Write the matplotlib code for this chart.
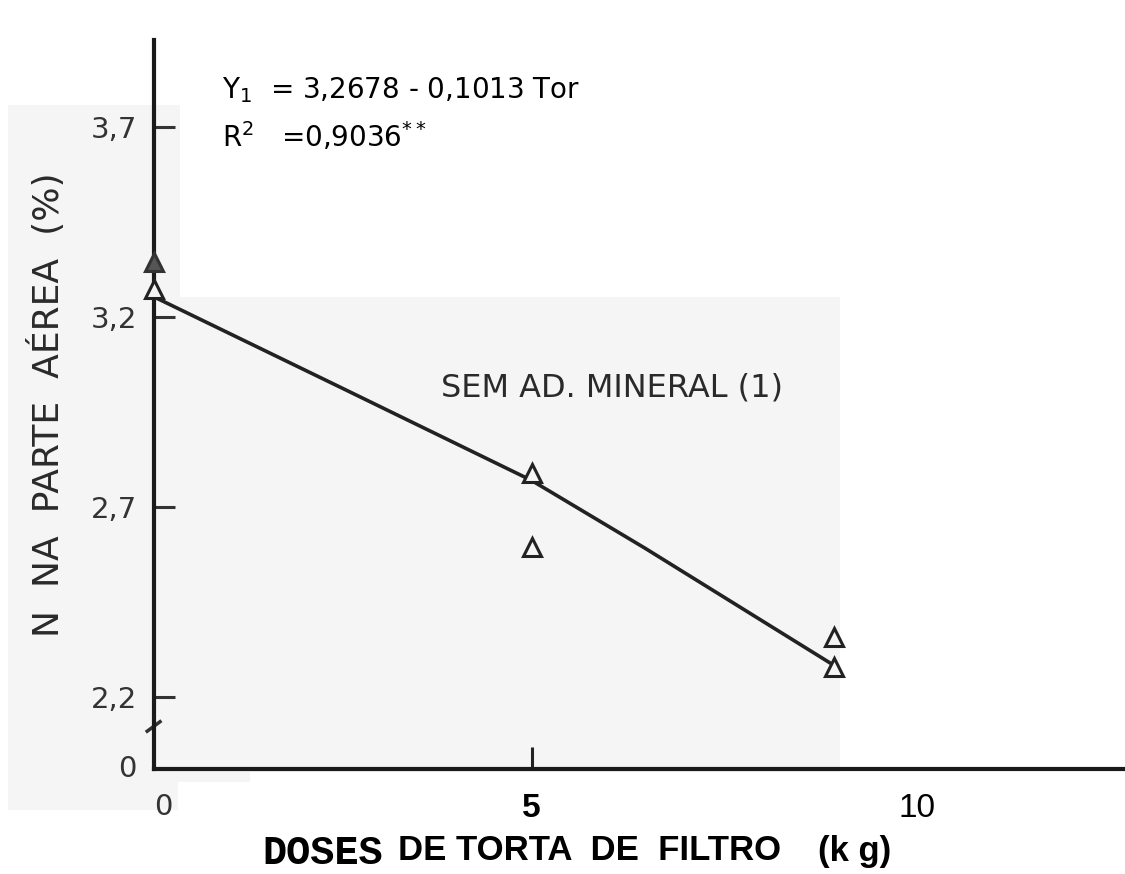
import matplotlib
matplotlib.use("Agg")
import matplotlib.pyplot as plt
from matplotlib.patches import Rectangle

# Data (dose of filter cake, N % in shoots)
dose_points = [0, 0, 5, 5, 9, 9]
n_points = [3.345, 3.274, 2.790, 2.595, 2.358, 2.279]
filled_point = [True, False, False, False, False, False]

# Fitted curve as drawn (slightly bent by hand)
fit_dose = [0, 2.5, 5, 6.5, 9]
fit_n = [3.253, 3.012, 2.770, 2.592, 2.284]

y_ticks = [2.2, 2.7, 3.2, 3.7]
y_tick_labels = ["2,2", "2,7", "3,2", "3,7"]
x_ticks = [0, 5, 10.1]
x_tick_labels = ["0", "5", "10"]

W, H = 1125, 874
fig = plt.figure(figsize=(W / 100, H / 100), dpi=100)
fig.patch.set_facecolor("white")

# Layout (pixels)
axis_x = 154
axis_y = 769
top_y = 40
px_per_dose = 75.5
px_per_n = 380.0
y_ref_px = 697  # pixel of 2.2


def px_rect(x0, y0, x1, y1, color):
    r = Rectangle((x0 / W, 1 - y1 / H), (x1 - x0) / W, (y1 - y0) / H,
                  transform=fig.transFigure, facecolor=color,
                  edgecolor="none", zorder=-5)
    fig.patches.append(r)


# scanned background pieces
scan_grey = "#f5f5f5"
px_rect(8, 105, 180, 297, scan_grey)
px_rect(8, 297, 840, 772, scan_grey)
px_rect(8, 772, 250, 782, scan_grey)
px_rect(8, 782, 178, 810, scan_grey)

ax = fig.add_axes([axis_x / W, (H - axis_y) / H,
                   (W - axis_x) / W, (axis_y - top_y) / H])
ax.set_facecolor("none")
ax.set_xlim(0, (W - axis_x) / px_per_dose)
ax.set_ylim(2.2 - (axis_y - y_ref_px) / px_per_n,
            2.2 + (y_ref_px - top_y) / px_per_n)

for s in ["top", "right"]:
    ax.spines[s].set_visible(False)
ax.spines["left"].set_linewidth(3)
ax.spines["bottom"].set_linewidth(3)
ax.spines["left"].set_color("#1a1a1a")
ax.spines["bottom"].set_color("#1a1a1a")

# fitted line and points
ax.plot(fit_dose, fit_n, color="#222222", lw=2.6, zorder=3,
        solid_capstyle="round", clip_on=False)
for xd, yd, filled in zip(dose_points, n_points, filled_point):
    ax.plot(xd, yd, marker="^", ms=13, mew=2.2, clip_on=False, zorder=4,
            mec="#333333" if filled else "#222222",
            mfc="#555555" if filled else scan_grey)

# y ticks
ax.set_yticks(y_ticks)
ax.set_yticklabels(y_tick_labels, fontsize=21, color="#333333",
                   family="DejaVu Sans")
ax.tick_params(axis="y", direction="in", length=15, width=2.2,
               color="#333333", pad=12)
ax.text(-0.35, ax.get_ylim()[0], "0", fontsize=21, color="#333333",
        ha="center", va="center")
# axis break mark
ax.plot([-0.09, 0.08], [2.11, 2.135], color="#333333", lw=2.5, clip_on=False)

# x ticks
ax.set_xticks(x_ticks)
ax.set_xticklabels(x_tick_labels)
ax.tick_params(axis="x", direction="in", length=16, width=2.2,
               color="#222222", pad=17)
xt = ax.xaxis.get_major_ticks()
xt[0].tick1line.set_visible(False)
xt[2].tick1line.set_visible(False)
labs = ax.get_xticklabels()
labs[0].set_fontsize(21)
labs[0].set_color("#333333")
labs[0].set_ha("left")
labs[1].set_fontsize(24)
labs[1].set_fontweight("bold")
labs[1].set_family("Liberation Sans")
labs[2].set_fontsize(24)
labs[2].set_family("Liberation Sans")

# equation
fig.text(222 / W, 1 - 90 / H, r"Y$_\mathregular{1}$  = 3,2678 - 0,1013 Tor",
         fontsize=20, color="black", va="center", ha="left")
fig.text(222 / W, 1 - 137 / H, r"R$^\mathregular{2}$   =0,9036$^{\mathregular{**}}$",
         fontsize=20, color="black", va="center", ha="left")

# series label
fig.text(612 / W, 1 - 388 / H, "SEM AD. MINERAL (1)", fontsize=23,
         color="#2a2a2a", ha="center", va="center")

# axis titles
fig.text(47 / W, 1 - 405 / H, "N  NA  PARTE  AÉREA  (%)", rotation=90,
         fontsize=26, color="#2a2a2a", ha="center", va="center")
fig.text(262 / W, 1 - 853 / H, "DOSES", family="Liberation Mono",
         fontweight="bold", fontsize=29, ha="left", va="center")
fig.text(398 / W, 1 - 851 / H, "DE TORTA  DE  FILTRO", family="Liberation Sans",
         fontweight="bold", fontsize=25, ha="left", va="center")
fig.text(818 / W, 1 - 851 / H, "(k g)", family="Liberation Sans",
         fontweight="bold", fontsize=25, ha="left", va="center")

fig.savefig("out.png", dpi=100)
